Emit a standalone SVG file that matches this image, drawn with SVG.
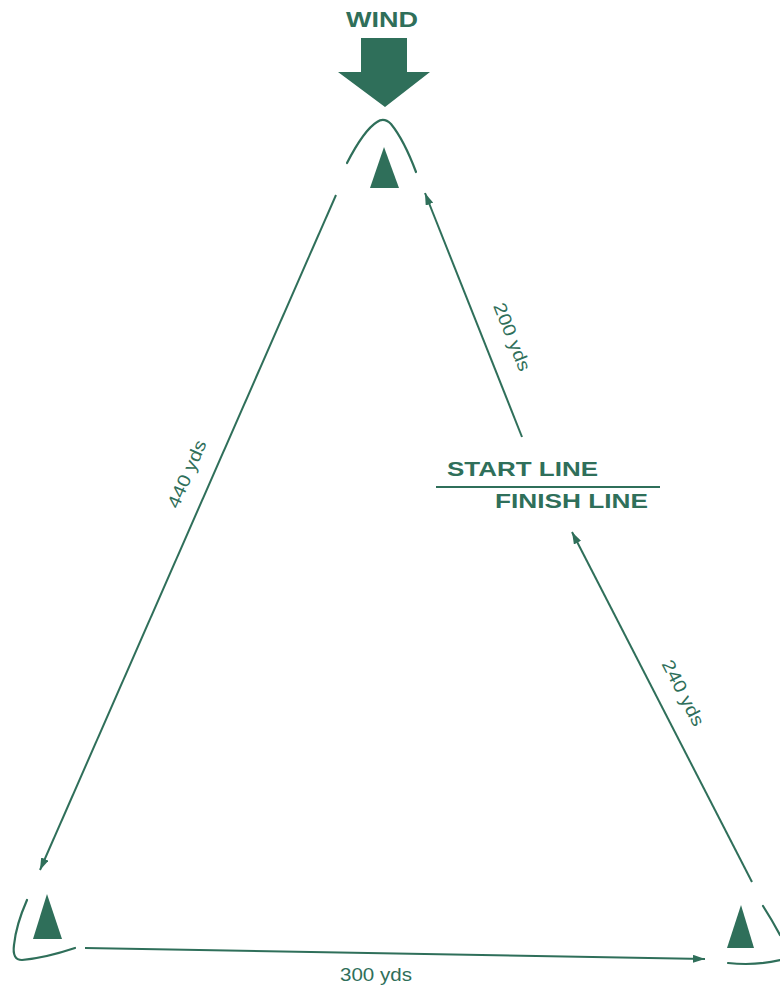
<svg xmlns="http://www.w3.org/2000/svg" width="780" height="987" viewBox="0 0 780 987">
<style>
.ln{stroke:#2f6f5a;stroke-width:2;fill:none}
.arc{stroke:#2f6f5a;stroke-width:2.2;fill:none;stroke-linecap:round}
.fill{fill:#2f6f5a}
.lbl{font-family:"Liberation Sans",Arial,sans-serif;font-size:18px;fill:#2f6f5a}
.bold{font-family:"Liberation Sans",Arial,sans-serif;font-weight:bold;fill:#2f6f5a}
</style>
<defs>
<marker id="ah" viewBox="0 0 12 8" refX="12" refY="4" markerWidth="12" markerHeight="8" markerUnits="userSpaceOnUse" orient="auto">
<path d="M0,0 L12,4 L0,8 Z" fill="#2f6f5a"/>
</marker>
</defs>
<g id="wind">
<text class="bold" x="346" y="27" font-size="22" textLength="72" lengthAdjust="spacingAndGlyphs">WIND</text>
<path class="fill" d="M361,38 L407,38 L407,72 L430,72 L385,107 L338,72 L361,72 Z"/>
</g>
<g id="top-mark">
<path class="arc" d="M347,163 Q364,130 377,122 Q384,117 391,124 Q404,140 416,172"/>
<path class="fill" d="M384,147 L399,188 L370,188 Z"/>
</g>
<g id="left-mark">
<path class="arc" d="M27,900 Q16,925 14,945 Q12,960 22,960 Q45,958 75,948"/>
<path class="fill" d="M47,894 L62,939 L33,939 Z"/>
</g>
<g id="right-mark">
<path class="arc" d="M763,906 Q772,920 780,935"/>
<path class="arc" d="M728,963 Q755,966 780,960"/>
<path class="fill" d="M741,905 L754,948 L727,948 Z"/>
</g>
<g id="start-finish">
<text class="bold" x="447" y="476" font-size="21" textLength="151" lengthAdjust="spacingAndGlyphs">START LINE</text>
<line class="ln" x1="436" y1="487" x2="660" y2="487"/>
<text class="bold" x="495" y="508" font-size="21" textLength="153" lengthAdjust="spacingAndGlyphs">FINISH LINE</text>
</g>
<g id="connectors">
<line class="ln" x1="336" y1="195" x2="40" y2="870" marker-end="url(#ah)"/>
<line class="ln" x1="522" y1="437" x2="425" y2="193" marker-end="url(#ah)"/>
<line class="ln" x1="752" y1="882" x2="572" y2="532" marker-end="url(#ah)"/>
<line class="ln" x1="85" y1="948" x2="705" y2="959" marker-end="url(#ah)"/>
</g>
<g id="labels">
<text class="lbl" text-anchor="middle" transform="translate(187,474) rotate(-66.3)" dy="6" textLength="72" lengthAdjust="spacingAndGlyphs">440 yds</text>
<text class="lbl" text-anchor="middle" transform="translate(512,337) rotate(68.3)" dy="6" textLength="72" lengthAdjust="spacingAndGlyphs">200 yds</text>
<text class="lbl" text-anchor="middle" transform="translate(683,693) rotate(62.8)" dy="6" textLength="72" lengthAdjust="spacingAndGlyphs">240 yds</text>
<text class="lbl" x="340" y="981" textLength="72" lengthAdjust="spacingAndGlyphs">300 yds</text>
</g>
</svg>
